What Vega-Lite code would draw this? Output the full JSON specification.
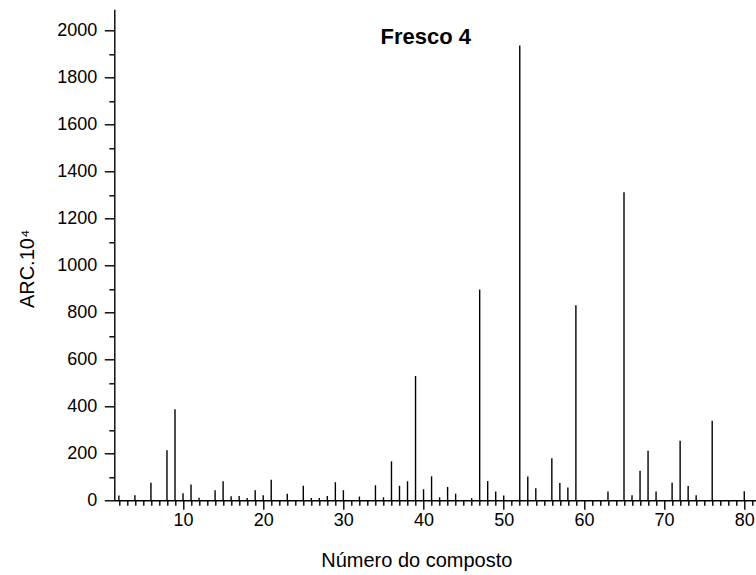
{
  "$schema": "https://vega.github.io/schema/vega-lite/v6.json",
  "width": 642,
  "height": 491,
  "autosize": {"type": "none"},
  "padding": {"left": 114.3, "top": 9.3, "right": 0, "bottom": 75},
  "background": "white",
  "title": {
    "text": "Fresco 4",
    "font": "Liberation Sans",
    "fontSize": 22,
    "fontWeight": "bold",
    "color": "black",
    "anchor": "middle",
    "frame": "group",
    "baseline": "alphabetic",
    "offset": 0,
    "dx": -9.5,
    "dy": 57
  },
  "config": {
    "view": {"stroke": null},
    "axis": {
      "labelFont": "Liberation Sans",
      "titleFont": "Liberation Sans",
      "labelColor": "black",
      "titleColor": "black",
      "tickColor": "black",
      "domainColor": "black",
      "grid": false
    }
  },
  "data": {
    "values": [
      {"n": 2, "v": 20}, {"n": 4, "v": 21}, {"n": 6, "v": 75}, {"n": 8, "v": 213},
      {"n": 9, "v": 388}, {"n": 10, "v": 30}, {"n": 11, "v": 67}, {"n": 12, "v": 11},
      {"n": 14, "v": 43}, {"n": 15, "v": 81}, {"n": 16, "v": 17}, {"n": 17, "v": 18},
      {"n": 18, "v": 10}, {"n": 19, "v": 43}, {"n": 20, "v": 21}, {"n": 21, "v": 87},
      {"n": 23, "v": 28}, {"n": 25, "v": 62}, {"n": 26, "v": 10}, {"n": 27, "v": 10},
      {"n": 28, "v": 18}, {"n": 29, "v": 77}, {"n": 30, "v": 43}, {"n": 32, "v": 16},
      {"n": 34, "v": 64}, {"n": 35, "v": 13}, {"n": 36, "v": 166}, {"n": 37, "v": 62},
      {"n": 38, "v": 81}, {"n": 39, "v": 529}, {"n": 40, "v": 47}, {"n": 41, "v": 102},
      {"n": 42, "v": 13}, {"n": 43, "v": 57}, {"n": 44, "v": 28}, {"n": 46, "v": 9},
      {"n": 47, "v": 897}, {"n": 48, "v": 82}, {"n": 49, "v": 37}, {"n": 50, "v": 20},
      {"n": 52, "v": 1936}, {"n": 53, "v": 101}, {"n": 54, "v": 51}, {"n": 56, "v": 179},
      {"n": 57, "v": 74}, {"n": 58, "v": 54}, {"n": 59, "v": 830}, {"n": 63, "v": 37},
      {"n": 65, "v": 1311}, {"n": 66, "v": 21}, {"n": 67, "v": 126}, {"n": 68, "v": 211},
      {"n": 69, "v": 37}, {"n": 71, "v": 75}, {"n": 72, "v": 253}, {"n": 73, "v": 61},
      {"n": 74, "v": 21}, {"n": 76, "v": 339}, {"n": 80, "v": 38}
    ]
  },
  "layer": [
    {
      "mark": {"type": "rule", "color": "black", "strokeWidth": 1.4},
      "encoding": {
        "x": {
          "field": "n",
          "type": "quantitative",
          "scale": {"domain": [1.43, 81.5], "nice": false, "zero": false},
          "axis": {
            "orient": "bottom",
            "values": [10, 20, 30, 40, 50, 60, 70, 80],
            "format": "d",
            "tickSize": 9,
            "tickWidth": 1.4,
            "domainWidth": 1.4,
            "labelFontSize": 18,
            "labelPadding": 2,
            "labelFlush": false,
            "labelOverlap": false,
            "title": "Número do composto",
            "titleFontSize": 20,
            "titleFontWeight": "normal",
            "titleX": 302,
            "titleY": 66.7,
            "titleAlign": "center",
            "titleBaseline": "alphabetic"
          }
        },
        "y": {
          "field": "v",
          "type": "quantitative",
          "scale": {"domain": [0, 2090], "nice": false},
          "axis": {
            "orient": "left",
            "values": [0, 200, 400, 600, 800, 1000, 1200, 1400, 1600, 1800, 2000],
            "format": "d",
            "tickSize": 10,
            "tickWidth": 1.4,
            "domainWidth": 1.4,
            "labelFontSize": 18,
            "labelPadding": 7.5,
            "labelFlush": false,
            "labelOverlap": false,
            "labelBaseline": "middle",
            "title": "ARC.10⁴",
            "titleFontSize": 20,
            "titleFontWeight": "normal",
            "titleAngle": -90,
            "titleX": -81,
            "titleY": 259,
            "titleAlign": "center",
            "titleBaseline": "alphabetic"
          }
        },
        "y2": {"datum": 0}
      }
    },
    {
      "mark": {"type": "rule", "opacity": 0},
      "encoding": {
        "x": {
          "field": "n",
          "type": "quantitative",
          "axis": {
            "orient": "bottom",
            "values": [2,3,4,5,6,7,8,9,11,12,13,14,15,16,17,18,19,21,22,23,24,25,26,27,28,29,31,32,33,34,35,36,37,38,39,41,42,43,44,45,46,47,48,49,51,52,53,54,55,56,57,58,59,61,62,63,64,65,66,67,68,69,71,72,73,74,75,76,77,78,79,81],
            "tickSize": 5,
            "tickWidth": 1.4,
            "domain": false,
            "labels": false,
            "title": null
          }
        },
        "y": {
          "field": "v",
          "type": "quantitative",
          "axis": {
            "orient": "left",
            "values": [100, 300, 500, 700, 900, 1100, 1300, 1500, 1700, 1900],
            "tickSize": 5.5,
            "tickWidth": 1.4,
            "domain": false,
            "labels": false,
            "title": null
          }
        }
      }
    }
  ],
  "resolve": {"axis": {"x": "independent", "y": "independent"}}
}
